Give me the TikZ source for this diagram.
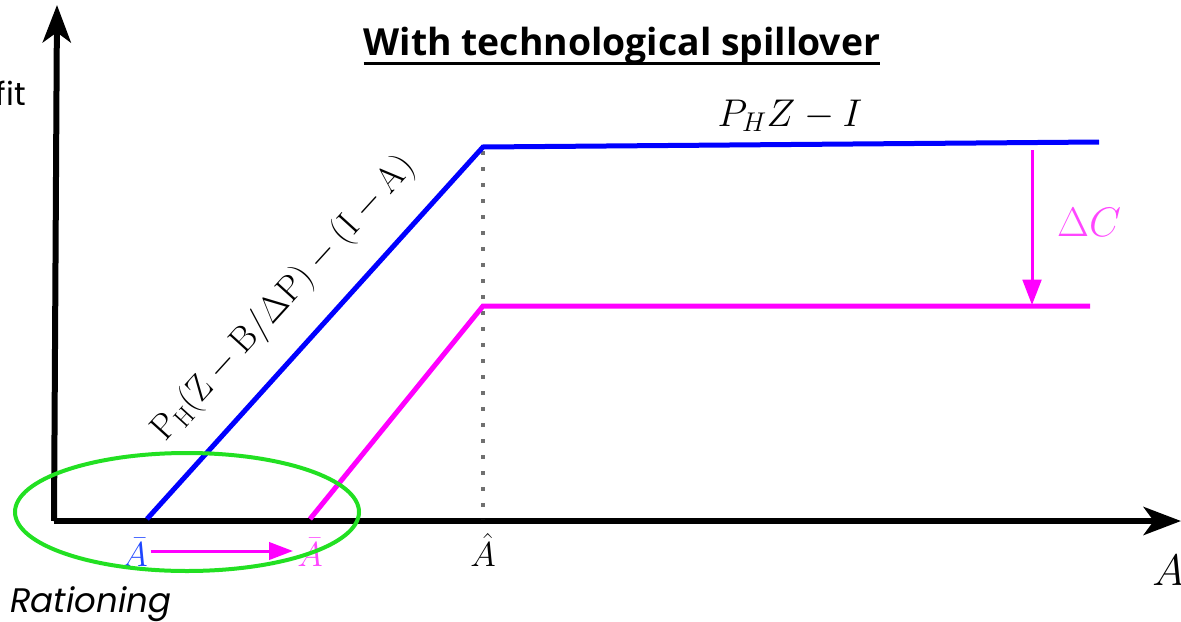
\documentclass[tikz,border=0pt]{standalone}
\usepackage{fix-cm}
\usepackage[no-math]{fontspec}
\usetikzlibrary{arrows.meta}
\newfontfamily\titlefont{Open Sans}
\newfontfamily\popfont{Poppins}
\definecolor{myblue}{RGB}{0,0,255}
\definecolor{mymag}{RGB}{255,0,255}
\definecolor{labmag}{RGB}{255,70,255}
\definecolor{labblue}{RGB}{30,70,255}
\definecolor{mygreen}{RGB}{34,224,34}
\definecolor{dotgray}{RGB}{112,112,112}
\tikzset{
  axis/.style={line width=4.5pt,-{Stealth[length=28pt,width=21pt,inset=7.5pt]}},
  curve/.style={line width=3.75pt,line join=miter},
  small arrow/.style={mymag,line width=2.25pt,-{Triangle[length=18pt,width=13pt]}},
  lbl/.style={inner sep=0pt}
}
\begin{document}
\begin{tikzpicture}[x=0.75pt,y=-0.75pt]
\useasboundingbox (0,0) rectangle (1181,621);
% axes
\coordinate (O) at (57,521);
\coordinate (ytop) at (57,5);
\coordinate (xend) at (1181,521);
\draw[axis] (54,521) -- (ytop);
\draw[axis] (54,521) -- (xend);
% curves
\coordinate (b0) at (147,519);
\coordinate (b1) at (483,147);
\coordinate (b2) at (1099,142);
\coordinate (m0) at (310,519);
\coordinate (m1) at (483,306);
\coordinate (m2) at (1090,306);
\draw[dotgray,line width=3pt,dash pattern=on 3pt off 9pt] (483,151) -- (483,519);
\draw[curve,myblue] (b0) -- (b1) -- (b2);
\draw[curve,mymag] (m0) -- (m1) -- (m2);
% Delta C arrow
\coordinate (dc0) at (1032,150);
\coordinate (dc1) at (1032,305);
\draw[small arrow,-{Triangle[length=19pt,width=14pt]}] (dc0) -- (dc1);
\node[lbl,labmag,anchor=base] (dC) at (1089,236) {\fontsize{31}{36}\selectfont $\Delta C$};
% labels
\node[lbl,anchor=base] (phz) at (790,126) {\fontsize{29}{34}\selectfont $P_H Z - I$};
\node[lbl,rotate=47.7] (slope) at (284,299) {\fontsize{27}{32}\selectfont $\mathrm{P_H(Z - B/\Delta P) - (I - A)}$};
% title
\node[lbl,anchor=base] (title) at (622,55) {\titlefont\bfseries\fontsize{28}{32}\selectfont With technological spillover};
\draw[line width=2.25pt] ([yshift=-6pt]title.base west) -- ([yshift=-6pt]title.base east);
% y label
\node[lbl,anchor=base east] (ylab) at (26,105) {\popfont\fontsize{24}{28}\selectfont fit};
% x labels
\node[lbl,anchor=base] (Ablue) at (135,566) {\fontsize{26}{30}\selectfont\color{labblue}$\bar{A}$};
\node[lbl,anchor=base] (Amag) at (310,566) {\fontsize{26}{30}\selectfont\color{labmag}$\bar{A}$};
\node[lbl,anchor=base] (Ahat) at (483,566) {\fontsize{26}{30}\selectfont$\hat{A}$};
\node[lbl,anchor=base west] (Ax) at (1152,585) {\fontsize{33}{38}\selectfont$A$};
\draw[small arrow] ([xshift=2pt]Ablue.east |- 0,551) -- ([xshift=-3pt]Amag.west |- 0,551);
% rationing
\draw[mygreen,line width=3pt] (187,512) ellipse [x radius=172, y radius=59];
\node[lbl,anchor=base west] (rat) at (10,612) {\popfont\itshape\fontsize{25.5}{30}\selectfont Rationing};
\end{tikzpicture}
\end{document}
